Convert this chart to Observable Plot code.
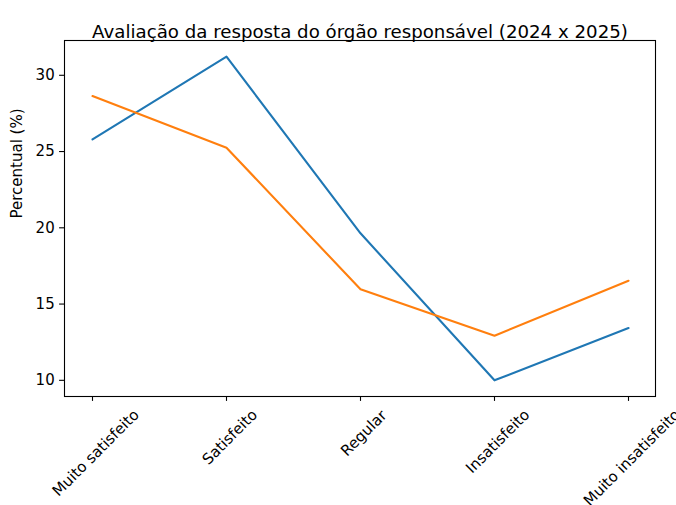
<!DOCTYPE html>
<html><head><meta charset="utf-8">
<script src="https://cdn.jsdelivr.net/npm/d3@7"></script>
<script src="https://cdn.jsdelivr.net/npm/@observablehq/plot@0.6"></script>
<style>body{margin:0;background:#fff;overflow:hidden} #chart svg{font-family:"DejaVu Sans";display:block}</style>
</head><body><div id="chart"></div>
<script>
const categories = ["Muito satisfeito", "Satisfeito", "Regular", "Insatisfeito", "Muito insatisfeito"];
const values2024 = [25.80, 31.22, 19.64, 10.00, 13.43];
const values2025 = [28.64, 25.25, 15.97, 12.92, 16.53];
const series = ["2024", "2025"];
const seriesColors = ["#1f77b4", "#ff7f0e"];
const yTicks = [10, 15, 20, 25, 30];
const title = "Avaliação da resposta do órgão responsável (2024 x 2025)";
const yLabel = "Percentual (%)";

(function () {
const data = [
  ...categories.map((c, i) => ({cat: c, v: values2024[i], s: series[0]})),
  ...categories.map((c, i) => ({cat: c, v: values2025[i], s: series[1]}))
];
const [lo, hi] = d3.extent(data, d => d.v);
const pad = (hi - lo) * 0.05;

const W = 676, H = 505, mB = 109;
const fs = 15;
const chart = Plot.plot({
  width: W, height: H, marginLeft: 64, marginRight: 21, marginTop: 40, marginBottom: mB,
  style: {fontFamily: "DejaVu Sans", fontSize: fs + "px", color: "#000", background: "#fff", overflow: "hidden"},
  x: {type: "point", domain: categories, padding: 0.2},
  y: {domain: [lo - pad, hi + pad]},
  color: {domain: series, range: seriesColors},
  marks: [
    Plot.lineY(data, {x: "cat", y: "v", stroke: "s", strokeWidth: 2.1}),
    Plot.frame({stroke: "#000", strokeWidth: 1.1}),
    Plot.axisY({ticks: yTicks, tickSize: 4.9, tickPadding: 4.9, label: null, fontSize: fs, strokeWidth: 1.1}),
    Plot.axisX({tickSize: 4.9, tickRotate: -45, label: null, fontSize: fs, strokeWidth: 1.1}),
    Plot.text([title], {frameAnchor: "top", dy: -15, fontSize: 18.2, fill: "#000"}),
    Plot.text([yLabel], {frameAnchor: "left", dx: -47, rotate: -90, fontSize: fs, fill: "#000"})
  ]
});
document.getElementById("chart").appendChild(chart);

// matplotlib-style rotated labels: centered horizontally on tick, top of bbox just below tick
const labelTop = H - mB + 4.9 + 4.9;
const svgBox = chart.getBoundingClientRect();
const lbl = chart.querySelector('g[aria-label="x-axis tick label"]');
if (lbl) {
  lbl.setAttribute("text-anchor", "middle");
  lbl.querySelectorAll("text").forEach(t => {
    t.setAttribute("text-anchor", "middle");
    t.setAttribute("dy", "0.32em");
    const m = /translate\(([^,\s]+)[,\s]+([^)]+)\)/.exec(t.getAttribute("transform") || "");
    const x = m ? +m[1] : 0;
    const y0 = m ? +m[2] : 0;
    t.setAttribute("transform", `translate(${x},${y0}) rotate(-45)`);
    const r = t.getBoundingClientRect();
    const top = r.top - svgBox.top;
    t.setAttribute("transform", `translate(${x},${y0 + (labelTop - top)}) rotate(-45)`);
  });
}
})();
</script>
</body></html>
